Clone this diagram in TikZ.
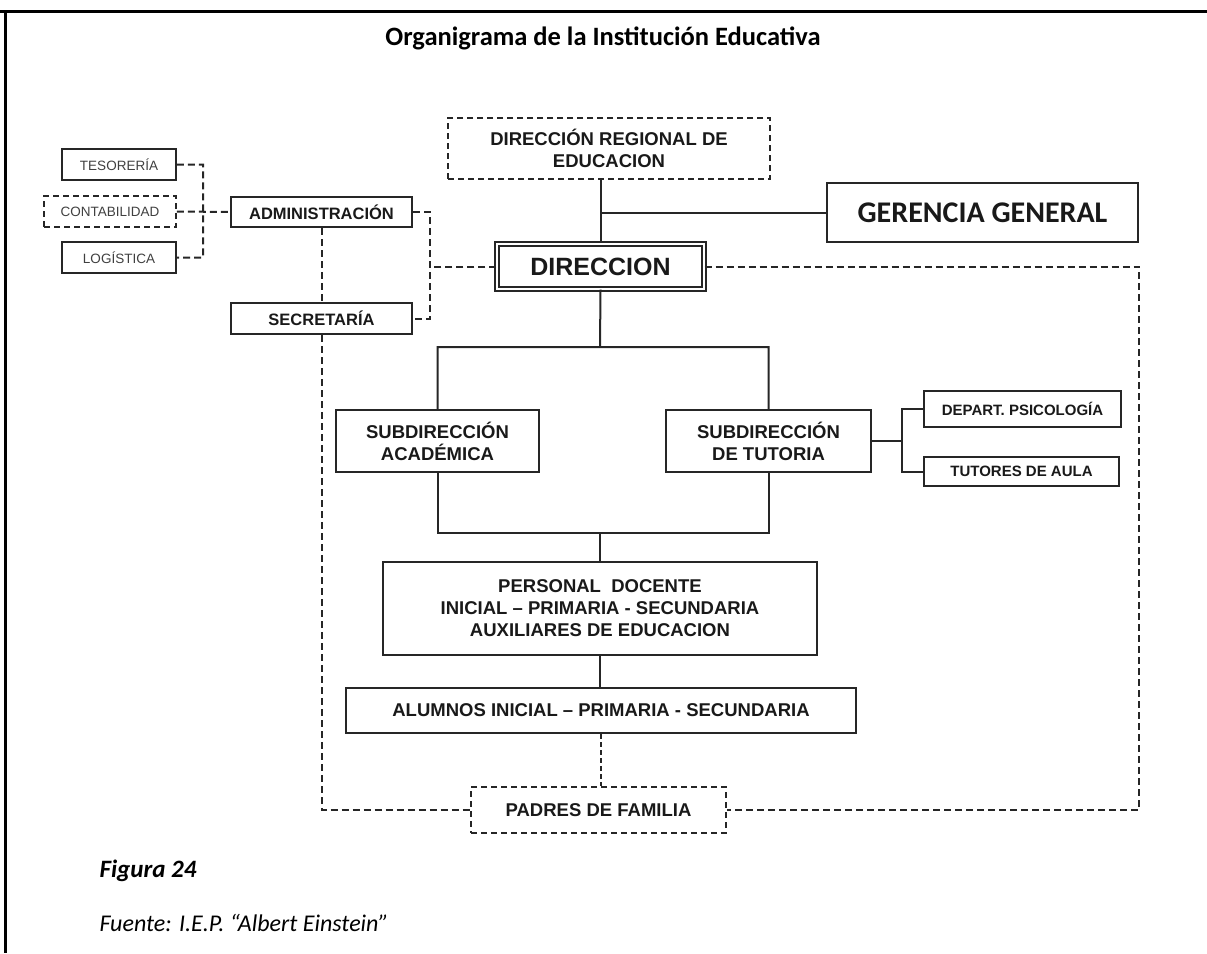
\documentclass[tikz,border=0pt]{standalone}
\usepackage{fontspec}
\setmainfont{Carlito}
\newfontfamily\boxfont{Liberation Sans}
\usetikzlibrary{positioning}
\begin{document}
\begin{tikzpicture}[x=1pt,y=-1pt,
  box/.style={draw=black!85,line width=2pt,align=center,inner sep=0pt,text=black!90,font=\boxfont\bfseries\fontsize{18.5}{22}\selectfont},
  dbox/.style={box,dash pattern=on 6pt off 4pt},
  smallbox/.style={box,line width=1.8pt,text=black!75,font=\boxfont\fontsize{13.5}{15}\selectfont},
  link/.style={draw=black!85,line width=2pt},
  dlink/.style={link,dash pattern=on 7pt off 4pt}]
\useasboundingbox (0,0) rectangle (1207,953);
\draw[line width=3pt] (0,11) -- (1207,11) (5,11) -- (5,953);
\node[font=\bfseries\fontsize{26.5}{30}\selectfont] (title) at (603,38) {Organigrama de la Institución Educativa};
\node[dbox,minimum width=322pt,minimum height=61pt] (dre) at (609,148.5) {DIRECCIÓN REGIONAL DE\\EDUCACION};
\node[box,minimum width=311pt,minimum height=59pt,font=\bfseries\fontsize{30}{32}\selectfont] (ger) at (982.5,212.5) {GERENCIA GENERAL};
\node[box,double,double distance=2.5pt,line width=1.3pt,minimum width=207pt,minimum height=45pt,font=\boxfont\bfseries\fontsize{25}{28}\selectfont] (dir) at (600.5,266.5) {DIRECCION};
\node[box,minimum width=181pt,minimum height=30pt,font=\boxfont\bfseries\fontsize{16.5}{18}\selectfont] (adm) at (321.5,212) {ADMINISTRACIÓN};
\node[box,minimum width=181pt,minimum height=31pt,font=\boxfont\bfseries\fontsize{16.5}{18}\selectfont] (sec) at (321.5,318.5) {SECRETARÍA};
\node[smallbox,minimum width=114pt,minimum height=31pt] (tes) at (119,164.5) {TESORERÍA};
\node[smallbox,dash pattern=on 6pt off 4pt,minimum width=132pt,minimum height=31pt] (con) at (110,211.5) {CONTABILIDAD};
\node[smallbox,minimum width=114pt,minimum height=31pt] (log) at (119,257.5) {LOGÍSTICA};
\node[box,minimum width=203pt,minimum height=62pt] (sacad) at (437.5,441) {SUBDIRECCIÓN\\ACADÉMICA};
\node[box,minimum width=205pt,minimum height=62pt] (stut) at (768.5,441) {SUBDIRECCIÓN\\DE TUTORIA};
\node[box,minimum width=197pt,minimum height=36pt,font=\boxfont\bfseries\fontsize{15}{17}\selectfont] (psi) at (1022.5,409) {DEPART. PSICOLOGÍA};
\node[box,minimum width=195pt,minimum height=29pt,font=\boxfont\bfseries\fontsize{15}{17}\selectfont] (tut) at (1021.5,471.5) {TUTORES DE AULA};
\node[box,minimum width=434pt,minimum height=93pt] (per) at (600,608.5) {PERSONAL \ DOCENTE\\INICIAL – PRIMARIA - SECUNDARIA\\AUXILIARES DE EDUCACION};
\node[box,minimum width=510pt,minimum height=45pt] (alu) at (601,710.5) {ALUMNOS INICIAL – PRIMARIA - SECUNDARIA};
\node[dbox,minimum width=255pt,minimum height=46pt] (pad) at (598.5,810) {PADRES DE FAMILIA};
\node[anchor=west,font=\bfseries\itshape\fontsize{25}{28}\selectfont] (fig) at (96,871) {Figura 24};
\node[anchor=west,font=\itshape\fontsize{24}{28}\selectfont] (src) at (96,923) {Fuente: I.E.P. “Albert Einstein”};
\coordinate (jger) at (dir.north |- ger.west);
\coordinate (jtop) at (600,347);
\coordinate (jbot) at (600,533);
\coordinate (jpsi) at (902,441);
\coordinate (jfin) at (203,164.5);
\coordinate (jadm) at (430,212);
\coordinate (jright) at (ger.east |- pad.east);
\draw[link] (dir.north |- dre.south) -- (dir.north) (jger) -- (ger.west);
\draw[link] (dir.south) -- (jtop) (sacad.north) |- (jtop) -| (stut.north);
\draw[link] (sacad.south) |- (jbot) -| (stut.south) (jbot) -- (per.north);
\draw[link] (stut.east) -- (jpsi) (psi.west) -| (jpsi) |- (tut.west);
\draw[link] (per.south) -- (per.south |- alu.north);
\draw[dlink,line width=1.4pt,dash pattern=on 5pt off 3pt] (alu.south) -- (alu.south |- pad.north);
\draw[dlink] (tes.east) -- (jfin) |- (log.east) (con.east) -- (adm.west);
\draw[dlink] (adm.east) -- (jadm) |- (sec.east) (dir.west) -- (dir.west -| jadm);
\draw[dlink] (adm.south) -- (sec.north) (sec.south) |- (pad.west);
\draw[dlink] (dir.east) -| (jright) -- (pad.east);
\end{tikzpicture}
\end{document}
